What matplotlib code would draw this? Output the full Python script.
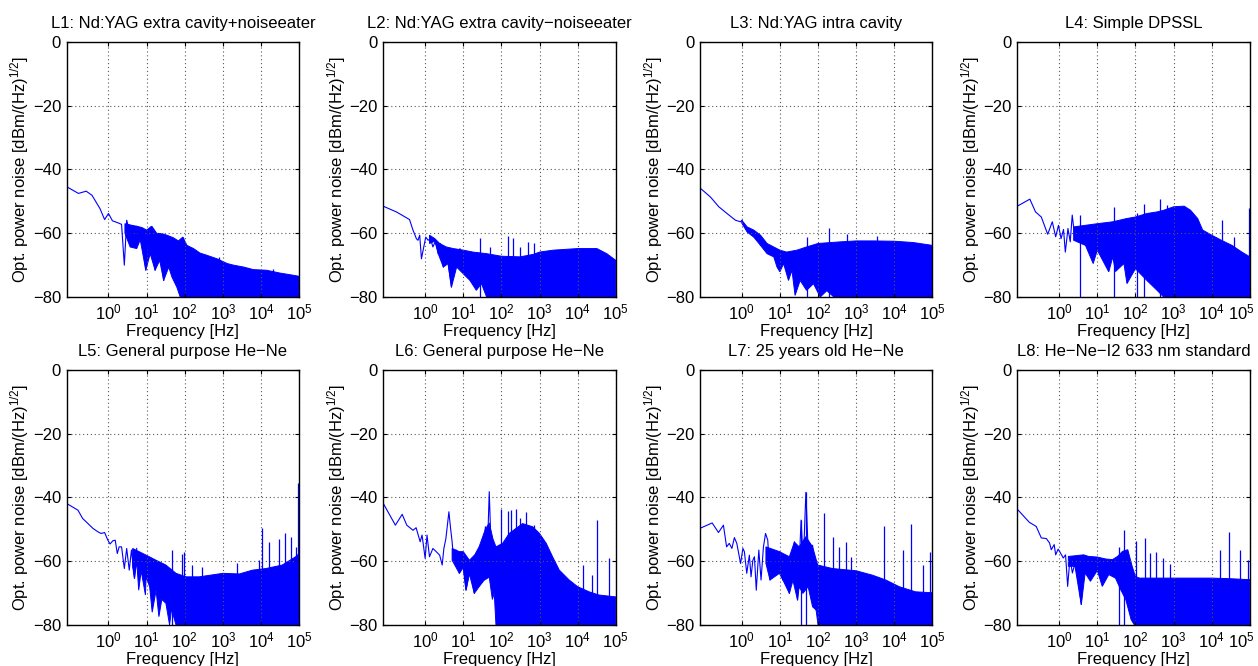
import numpy as np
import matplotlib
matplotlib.use('Agg')
import matplotlib.pyplot as plt
import matplotlib.transforms as mtransforms
from matplotlib.ticker import FixedLocator, NullLocator

plt.rcParams['font.family'] = ['Liberation Sans', 'DejaVu Sans']
plt.rcParams['mathtext.fontset'] = 'custom'
plt.rcParams['mathtext.rm'] = 'Liberation Sans'
plt.rcParams['mathtext.it'] = 'Liberation Sans:italic'

titles = ['L1: Nd:YAG extra cavity+noiseeater',
          'L2: Nd:YAG extra cavity\u2212noiseeater',
          'L3: Nd:YAG intra cavity',
          'L4: Simple DPSSL',
          'L5: General purpose He\u2212Ne',
          'L6: General purpose He\u2212Ne',
          'L7: 25 years old He\u2212Ne',
          'L8: He\u2212Ne\u2212I2 633 nm standard']

# each laser: low-frequency trace, upper / lower edge of the dense noise band, spikes

# L1: Nd:YAG extra cavity + noise eater
l1_trace_f = [0.08, 0.163, 0.26, 0.37, 0.6, 0.79, 1.0, 1.27, 1.5, 1.83, 2.2, 2.6, 3.0, 3.7,
              4.2, 5.0, 5.5, 6.8, 7.5, 9.5, 11, 12.9, 16.7, 20, 28]
l1_trace_v = [-45.4, -47.5, -46.8, -48.1, -52.3, -55.7, -53.8, -56.1, -56.4, -56.8, -57.2, -70,
              -55.9, -60.1, -58, -64.3, -57.8, -62.2, -58.5, -71.6, -59, -58, -71.6, -60, -74.8]
l1_hi_f = [2.7, 4.1, 5.5, 7.5, 10, 13.7, 18.6, 25, 34, 50, 68, 89, 114, 170, 250, 380, 700,
           1300, 1900, 3500, 6300, 14000, 32000, 58000, 100000]
l1_hi_v = [-57, -57.5, -57.8, -58.2, -59, -57.8, -60.1, -60.1, -60.6, -61.4, -62.4, -61.2, -63.8,
           -64.8, -66.2, -66.9, -68, -69.5, -70, -70.6, -71.4, -71.6, -72.5, -73, -73.5]
l1_lo_f = [2.7, 3.7, 5.5, 6.8, 9.5, 12.4, 16.7, 22, 28, 38, 46, 62, 76, 100000]
l1_lo_v = [-60, -64.3, -64.8, -62, -71.6, -66.4, -71.6, -68.5, -74.8, -70.6, -73.7, -76.9, -80, -80]
l1_spike_f = [89, 770, 21000]
l1_spike_v = [-61.2, -67.4, -71.1]

# L2: Nd:YAG extra cavity - noise eater
l2_trace_f = [0.079, 0.176, 0.39, 0.48, 0.59, 0.65, 0.72, 0.8, 0.92, 1.04, 1.2, 1.38, 1.6, 1.9,
              2.2, 2.5, 3.0, 3.5, 4.0, 4.9, 5.5, 6.7, 8.2, 10]
l2_trace_v = [-51.5, -53.3, -55.7, -59, -61.7, -62.2, -60.6, -68, -64.3, -61.2, -62.2, -61.7,
              -64.3, -62.2, -66.4, -63.2, -70.6, -64.8, -69.5, -76.9, -65.3, -70.6, -64.8, -72]
l2_hi_f = [1.3, 1.8, 2.4, 3.6, 5.5, 10, 18, 41, 100, 310, 700, 1000, 2300, 10000, 32000, 58000,
           100000]
l2_hi_v = [-60.6, -61.7, -63.2, -64.3, -64.8, -65.3, -65.9, -66.4, -67.2, -67.4, -66.6, -65.9,
           -65.3, -64.8, -64.8, -66.4, -68.5]
l2_lo_f = [1.3, 1.8, 2.2, 3.0, 4.0, 4.9, 6.7, 10, 15, 22, 30, 41, 100000]
l2_lo_v = [-63.2, -62.5, -66.4, -70.6, -69.5, -76.9, -70.6, -72.7, -74.8, -77.9, -75.8, -80, -80]
l2_spike_f = [28, 50, 153, 207, 310, 510, 700]
l2_spike_v = [-61.4, -64.3, -61, -61.4, -64.3, -62.7, -63.2]

# L3: Nd:YAG intra cavity
l3_trace_f = [0.086, 0.15, 0.25, 0.41, 0.68, 0.92, 1.02]
l3_trace_v = [-46.1, -48.6, -51.7, -53.8, -55.9, -56.4, -55.9]
l3_hi_f = [1.0, 1.38, 2.06, 3.1, 4.6, 6.9, 10, 15, 28, 50, 100, 380, 1000, 2800, 10000, 31000,
           100000]
l3_hi_v = [-55.9, -58, -59, -60.6, -63.2, -64.3, -65.3, -65.9, -65.3, -64.3, -63.2, -62.7, -62.4,
           -62.4, -62.5, -62.9, -63.8]
l3_lo_f = [1.0, 1.38, 2.06, 3.1, 4.6, 6.9, 8.4, 10, 12.5, 16.8, 20.7, 25, 34, 50, 76, 114, 170,
           260, 100000]
l3_lo_v = [-56.8, -59.6, -61.2, -63.8, -66.4, -67.4, -70.6, -72.1, -69.5, -74.8, -71.6, -79.5,
           -74.8, -77.9, -75.8, -80, -78, -80, -80]
l3_spike_f = [50, 190, 570, 3600]
l3_spike_v = [-61.2, -58.5, -60.1, -61]

# L4: simple DPSSL
l4_trace_f = [0.08, 0.17, 0.24, 0.34, 0.5, 0.66, 0.81, 0.96, 1.12, 1.3, 1.45, 1.7, 1.95, 2.2, 2.5]
l4_trace_v = [-51.5, -49.3, -53.3, -54.9, -60.3, -56.4, -61.1, -57.5, -61.7, -58.8, -65.9, -58.5,
              -62.7, -54.3, -60]
l4_hi_f = [2.4, 4.9, 10, 25.5, 58, 100, 200, 370, 550, 1000, 1900, 2800, 4300, 5800, 10000,
           18000, 34000, 62000, 100000]
l4_hi_v = [-58, -57.5, -57, -56.4, -55.4, -54.9, -53.8, -53.3, -52.8, -51.7, -51.5, -52.8, -55.4,
           -59, -60.6, -62.2, -63.8, -65.9, -67.4]
l4_lo_f = [2.4, 4.9, 7.8, 10, 20, 25.5, 30, 50, 60, 100, 200, 370, 550, 100000]
l4_lo_v = [-62.2, -63.8, -69.5, -65.3, -72.1, -67.4, -72, -69.5, -75.8, -71.1, -74.8, -77.9, -80, -80]
l4_spike_f = [3.6, 28, 107, 168, 430, 680, 19000, 38000, 97000]
l4_spike_v = [-54.3, -51.7, -53.8, -50.9, -49.1, -51.2, -55.7, -61.1, -52.2]

# L5: general purpose He-Ne
l5_trace_f = [0.08, 0.158, 0.21, 0.29, 0.39, 0.53, 0.64, 0.79, 0.96, 1.1, 1.3, 1.5, 1.7, 1.9,
              2.2, 2.6, 3.0, 3.5, 4.0, 4.8, 5.5]
l5_trace_v = [-41.9, -44, -46.6, -48.2, -49.7, -50.8, -51.3, -51, -53.4, -54.6, -53.6, -53.4,
              -57.6, -55.5, -55.5, -62.3, -56, -62.8, -56.5, -65.4, -56]
l5_hi_f = [4.3, 9.7, 17.7, 32, 59, 108, 240, 1000, 2700, 6000, 13500, 36000, 81000, 100000]
l5_hi_v = [-56, -58.1, -59.7, -61.2, -63.8, -64.9, -64.9, -63.8, -64, -62.8, -62.3, -61.2,
           -58.6, -57.6]
l5_lo_f = [4.3, 4.8, 5.5, 6.2, 7.2, 9.3, 9.7, 12, 14, 17.7, 21, 25, 32, 40, 45, 59, 100000]
l5_lo_v = [-61.7, -65.4, -60, -69.1, -63, -70.6, -64.9, -68, -76, -69.1, -77.4, -72, -73.2, -80,
           -75, -80, -80]
l5_spike_f = [45, 85, 98, 155, 280, 2400, 9000, 10500, 16500, 30000, 43000, 61000, 81000, 95000]
l5_spike_v = [-56.5, -57.6, -57, -61.2, -61.7, -60.7, -59.7, -49.7, -53.9, -52.9, -51.3, -52.3,
              -55.5, -35.5]

# L6: general purpose He-Ne
l6_trace_f = [0.08, 0.166, 0.25, 0.33, 0.48, 0.58, 0.74, 0.83, 1.0, 1.12, 1.3, 1.6, 1.95, 2.4,
              2.8, 3.1, 3.5, 4.2, 4.6, 5.1, 5.6, 6.5, 7.9, 9.8, 11.8, 15, 19.5, 24, 27.5, 32, 38,
              43, 48, 55, 65, 75, 89]
l6_trace_v = [-41.9, -48.7, -45.3, -48.7, -50.3, -49.5, -53.9, -51.8, -59.1, -51.8, -58.6, -56,
              -57, -58.1, -61.2, -56, -52.9, -44.5, -49.2, -53.9, -59.7, -56.5, -63.8, -60.7,
              -69.1, -62.3, -70.1, -59.7, -55.5, -61.7, -49.2, -56.5, -38.2, -59.7, -55.5, -74.3,
              -59.7]
l6_hi_f = [5.1, 7.9, 10, 14.5, 20, 26, 38, 48, 60, 72, 108, 160, 360, 660, 1000, 1500, 2200,
           3300, 6000, 10000, 20000, 36000, 100000]
l6_hi_v = [-56, -57, -57, -59.7, -58, -55.5, -50, -48, -53, -55.5, -54.4, -51.3, -48.2, -49.2,
           -51.3, -54.4, -58.6, -62.8, -65.9, -68, -69.6, -70.6, -71.2]
l6_lo_f = [5.1, 7.9, 10, 11.8, 14.5, 19.5, 26, 35, 48, 58, 65, 72, 100000]
l6_lo_v = [-59.7, -63.8, -62, -69.1, -64, -70.1, -68, -66, -65, -72, -70, -80, -80]
l6_spike_f = [98, 145, 178, 240, 305, 440, 730, 13500, 24500, 33000, 67000]
l6_spike_v = [-43.5, -44.2, -43.8, -43.5, -46.6, -44.5, -48.7, -61.2, -64.4, -47.1, -59.1]

# L7: 25 years old He-Ne
l7_trace_f = [0.08, 0.167, 0.245, 0.33, 0.4, 0.47, 0.55, 0.64, 0.74, 0.93, 1.07, 1.17, 1.35,
              1.58, 1.75, 1.95, 2.15, 2.4, 2.8, 3.2, 3.7, 4.2, 4.8, 5.5, 6.5, 7.9, 9.7, 11.8,
              14.5, 17.7, 24, 29, 36, 41, 48, 59, 72, 89]
l7_trace_v = [-49.7, -48, -51, -48.7, -55.5, -54.4, -56, -52.6, -54.4, -60.7, -56, -57, -63.8,
              -58.1, -64.9, -59.7, -58.6, -69.1, -56.5, -65.9, -55.5, -51.3, -53.4, -65.9, -57.6,
              -62.8, -57, -65.9, -58.6, -70.1, -53.9, -72.2, -47.1, -60.7, -38.4, -65.9, -55,
              -75.3]
l7_hi_f = [4.3, 9.7, 17.7, 24, 32, 48, 72, 98, 240, 1000, 2700, 6000, 13500, 36000, 100000]
l7_hi_v = [-55.5, -57, -58.6, -54, -55.5, -52.3, -55.5, -61.2, -62.3, -63, -64.4, -65.9, -68,
           -69.6, -69.9]
l7_lo_f = [4.3, 5.5, 9.7, 12, 17.7, 22, 29, 32, 40, 55, 72, 89, 100, 100000]
l7_lo_v = [-60.7, -65.9, -63.8, -65.9, -70.1, -66, -72.2, -68, -70.1, -68, -74.3, -75.3, -80, -80]
l7_spike_f = [36, 48, 145, 240, 360, 540, 730, 5400, 16500, 28000, 55000, 88000]
l7_spike_v = [-47.1, -38.4, -45, -52.3, -55.5, -53.9, -58.6, -49, -56.5, -48.2, -61.2, -57]

# L8: He-Ne-I2 633 nm standard
l8_trace_f = [0.08, 0.12, 0.165, 0.25, 0.34, 0.46, 0.56, 0.62, 0.74, 0.81, 0.94, 1.08, 1.28,
              1.47, 1.67, 1.92, 2.22, 2.6, 3.2, 3.8, 4.4]
l8_trace_v = [-43.7, -46, -47.8, -49.1, -52.7, -52.9, -54.3, -56.4, -54.8, -58, -56.2, -57.4,
              -59, -58, -67.9, -59, -63.7, -60.6, -66.3, -73.6, -59.5]
l8_hi_f = [1.74, 2.6, 4.4, 5.9, 10, 16.5, 25, 34, 46, 63, 82, 100, 128, 1000, 10000, 32000, 100000]
l8_hi_v = [-58.5, -58.3, -58, -58.5, -58.7, -59.3, -59.5, -58.5, -56.9, -56.4, -61.6, -64.8,
           -65.3, -65.3, -65.3, -65.5, -65.8]
l8_lo_f = [1.74, 2.6, 3.8, 4.8, 6.6, 10, 13.5, 20, 30, 41, 56, 77, 94, 100000]
l8_lo_v = [-61.6, -61.6, -73.6, -63.7, -66.3, -62.9, -67.9, -64.2, -65.3, -68.9, -72.1, -78.3,
           -80, -80]
l8_spike_f = [37, 50, 104, 175, 235, 355, 540, 810, 17000, 28000, 55000, 90000]
l8_spike_v = [-55.4, -50.1, -53.8, -52.7, -57.4, -57, -59, -61, -56.4, -50.7, -56.4, -59.5]

lasers = [
    (l1_trace_f, l1_trace_v, l1_hi_f, l1_hi_v, l1_lo_f, l1_lo_v, l1_spike_f, l1_spike_v),
    (l2_trace_f, l2_trace_v, l2_hi_f, l2_hi_v, l2_lo_f, l2_lo_v, l2_spike_f, l2_spike_v),
    (l3_trace_f, l3_trace_v, l3_hi_f, l3_hi_v, l3_lo_f, l3_lo_v, l3_spike_f, l3_spike_v),
    (l4_trace_f, l4_trace_v, l4_hi_f, l4_hi_v, l4_lo_f, l4_lo_v, l4_spike_f, l4_spike_v),
    (l5_trace_f, l5_trace_v, l5_hi_f, l5_hi_v, l5_lo_f, l5_lo_v, l5_spike_f, l5_spike_v),
    (l6_trace_f, l6_trace_v, l6_hi_f, l6_hi_v, l6_lo_f, l6_lo_v, l6_spike_f, l6_spike_v),
    (l7_trace_f, l7_trace_v, l7_hi_f, l7_hi_v, l7_lo_f, l7_lo_v, l7_spike_f, l7_spike_v),
    (l8_trace_f, l8_trace_v, l8_hi_f, l8_hi_v, l8_lo_f, l8_lo_v, l8_spike_f, l8_spike_v),
]

xticks = [1, 10, 100, 1000, 10000, 100000]
xticklabels = ['$10^{0}$', '$10^{1}$', '$10^{2}$', '$10^{3}$', '$10^{4}$', '$10^{5}$']
yticks = [-80, -60, -40, -20, 0]
yticklabels = ['\u221280', '\u221260', '\u221240', '\u221220', '0']

fig = plt.figure(figsize=(12.58, 6.66), dpi=100)
lefts = [0.053, 0.3047, 0.5564, 0.8087]
bottoms = [0.554, 0.0616]
w, h = 0.1848, 0.383
blue = (0, 0, 1)

for i, (tf, tv, hf, hv, lf, lv, sf, sv) in enumerate(lasers):
    ax = fig.add_axes([lefts[i % 4], bottoms[i // 4], w, h])
    ax.set_xscale('log')
    # dense noise band as a polygon: upper edge left to right, lower edge back
    ax.fill(list(hf) + list(lf)[::-1], list(hv) + list(lv)[::-1],
            facecolor=blue, edgecolor=blue, lw=0.7)
    ax.plot(tf, tv, color=blue, lw=0.8)
    ax.vlines(sf, -80, sv, color=blue, lw=0.9)
    ax.set_xlim(0.08, 1e5)
    ax.set_ylim(-80, 0)
    ax.xaxis.set_major_locator(FixedLocator(xticks))
    ax.xaxis.set_minor_locator(NullLocator())
    ax.set_xticklabels(xticklabels)
    ax.set_yticks(yticks)
    ax.set_yticklabels(yticklabels)
    ax.tick_params(direction='in', top=True, right=True, labelsize=12, pad=4, length=3)
    ax.grid(True, ls=(0, (1, 2.5)), color='0.35', lw=0.8)
    for s in ax.spines.values():
        s.set_linewidth(1.0)
    ax.set_title(titles[i], fontsize=12, pad=10)
    ax.set_xlabel('Frequency [Hz]', fontsize=12, labelpad=1)
    ax.set_ylabel('Opt. power noise [dBm/(Hz)$^{1/2}$]', fontsize=12, labelpad=1)
    if i % 4 == 3:
        # keep the last decade label inside the figure
        lab = ax.get_xticklabels()[-1]
        lab.set_transform(lab.get_transform() +
                          mtransforms.ScaledTranslation(-6 / 72, 0, fig.dpi_scale_trans))

fig.savefig('out.png', dpi=100)
